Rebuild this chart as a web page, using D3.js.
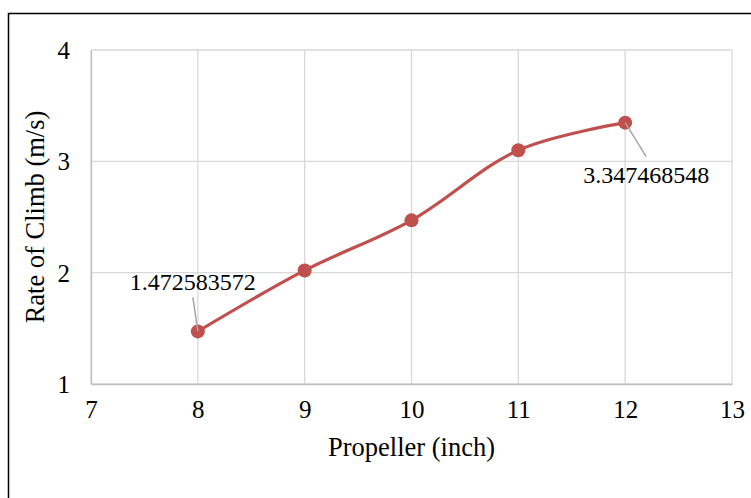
<!DOCTYPE html>
<html>
<head>
<meta charset="utf-8">
<script src="https://cdn.jsdelivr.net/npm/d3@7"></script>
<style>
  body { margin: 0; background: #fff; }
  svg { display: block; }
  svg text { font-family: "Liberation Serif", "Times New Roman", serif; fill: #000; }
</style>
</head>
<body>
<svg id="drawing_region"></svg>
<script>
// values
const propeller = [8, 9, 10, 11, 12];
const climb = [1.472583572, 2.02, 2.47, 3.10, 3.347468548];
const xTicks = [7, 8, 9, 10, 11, 12, 13];
const yTicks = [1, 2, 3, 4];
const labelled = [0, 4]; // which points carry a data label

const width = 751, height = 498;
const margin = {top: 50, right: 19, bottom: 114, left: 91};

const svg = d3.select('#drawing_region')
    .attr('width', width)
    .attr('height', height);

// outer frame
svg.append('rect')
    .attr('x', 8.5).attr('y', 13.5)
    .attr('width', width + 10).attr('height', height + 10)
    .attr('fill', 'none')
    .attr('stroke', '#000')
    .attr('stroke-width', 1.5);

const innerW = width - margin.left - margin.right;
const innerH = height - margin.top - margin.bottom;

const xscale = d3.scaleLinear().domain([7, 13]).range([0, innerW]);
const yscale = d3.scaleLinear().domain([1, 4]).range([innerH, 0]);

const chart = svg.append('g')
    .attr('transform', `translate(${margin.left}, ${margin.top})`);

// grid
chart.append('g')
    .selectAll('line')
    .data(xTicks)
    .join('line')
    .attr('x1', d => xscale(d)).attr('x2', d => xscale(d))
    .attr('y1', 0).attr('y2', innerH)
    .attr('stroke', '#d9d9d9')
    .attr('stroke-width', 1.3);

chart.append('g')
    .selectAll('line')
    .data(yTicks)
    .join('line')
    .attr('x1', 0).attr('x2', innerW)
    .attr('y1', d => yscale(d)).attr('y2', d => yscale(d))
    .attr('stroke', '#d9d9d9')
    .attr('stroke-width', 1.3);

const xaxis = d3.axisBottom(xscale).tickValues(xTicks).tickFormat(d3.format('d')).tickSize(0).tickPadding(16);
const yaxis = d3.axisLeft(yscale).tickValues(yTicks).tickFormat(d3.format('d')).tickSize(0).tickPadding(21);

const xg = chart.append('g')
    .attr('transform', `translate(0, ${innerH})`)
    .call(xaxis);
const yg = chart.append('g').call(yaxis);

[xg, yg].forEach(g => {
    g.attr('font-family', null).attr('font-size', null);
    g.select('.domain').attr('stroke', '#bfbfbf').attr('stroke-width', 1.3);
    g.selectAll('text').style('font-size', '25px');
});
yg.selectAll('text').attr('dy', '0.34em');

// series
const line = d3.line()
    .x((d, i) => xscale(propeller[i]))
    .y(d => yscale(d))
    .curve(d3.curveCatmullRom.alpha(0.5));

chart.append('path')
    .datum(climb)
    .attr('d', line)
    .attr('fill', 'none')
    .attr('stroke', '#c0504d')
    .attr('stroke-width', 3.2);

chart.selectAll('circle')
    .data(climb)
    .join('circle')
    .attr('cx', (d, i) => xscale(propeller[i]))
    .attr('cy', d => yscale(d))
    .attr('r', 7)
    .attr('fill', '#c0504d');

// data labels with leader lines
const labelPos = [
    {dx: -5, dy: -34, lx: -5, ly: -41, anchor: 'middle'},
    {dx: 21, dy: 34, lx: -42, ly: 60, anchor: 'start'}
];
labelled.forEach((idx, k) => {
    const px = xscale(propeller[idx]), py = yscale(climb[idx]);
    const p = labelPos[k];
    chart.append('line')
        .attr('x1', px).attr('y1', py)
        .attr('x2', px + p.dx).attr('y2', py + p.dy)
        .attr('stroke', '#a6a6a6')
        .attr('stroke-width', 1.5);
    chart.append('text')
        .attr('x', px + p.lx)
        .attr('y', py + p.ly)
        .attr('text-anchor', p.anchor)
        .style('font-size', '24px')
        .text(String(climb[idx]));
});

// axis titles
svg.append('text')
    .attr('x', margin.left + innerW / 2)
    .attr('y', 456)
    .attr('text-anchor', 'middle')
    .style('font-size', '26.5px')
    .text('Propeller (inch)');

svg.append('text')
    .attr('transform', `translate(44, ${margin.top + innerH / 2}) rotate(-90)`)
    .attr('text-anchor', 'middle')
    .style('font-size', '26.5px')
    .text('Rate of Climb (m/s)');
</script>
</body>
</html>
